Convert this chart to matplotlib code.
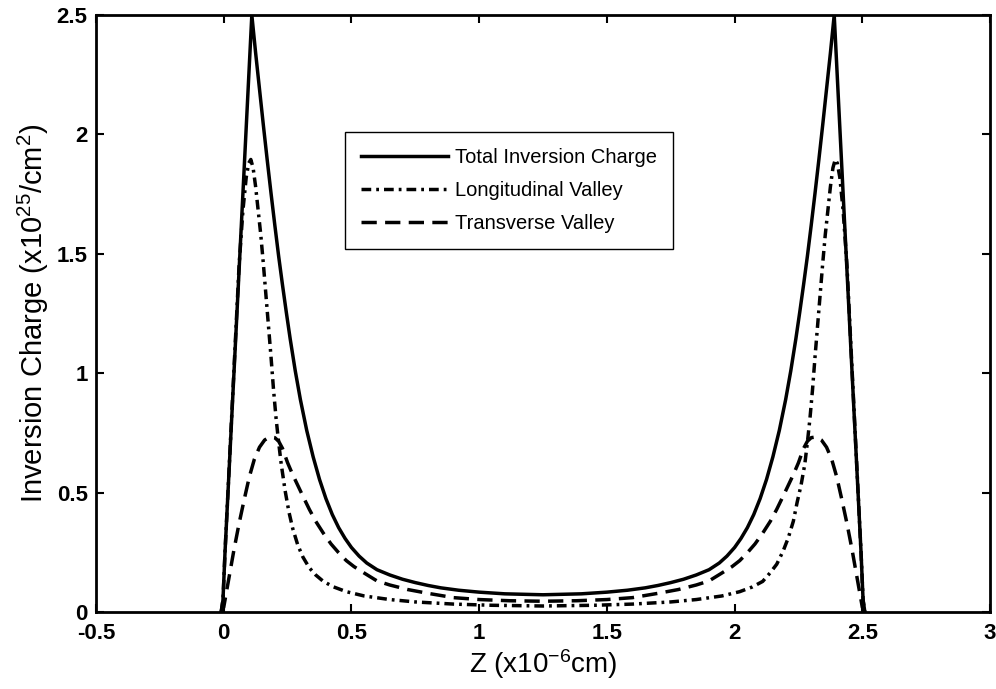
import numpy as np
import matplotlib
matplotlib.use("Agg")
import matplotlib.pyplot as plt

plt.rcParams['font.family'] = ['Liberation Sans', 'DejaVu Sans']
plt.rcParams['mathtext.fontset'] = 'custom'
plt.rcParams['mathtext.rm'] = 'Liberation Sans'
plt.rcParams['mathtext.it'] = 'Liberation Sans:italic'
plt.rcParams['mathtext.bf'] = 'Liberation Sans:bold'
plt.rcParams['lines.scale_dashes'] = False

# Total inversion charge
z_total = [-0.01, -0.003, 0.005, 0.11, 0.125, 0.14, 0.155, 0.17, 0.185, 0.20, 0.215, 0.23,
           0.245, 0.26, 0.28, 0.30, 0.325, 0.35, 0.375, 0.40, 0.425, 0.45, 0.475, 0.50,
           0.53, 0.56, 0.60, 0.65, 0.70, 0.75, 0.80, 0.85, 0.92, 1.0, 1.1, 1.25,
           1.40, 1.50, 1.58, 1.65, 1.70, 1.75, 1.80, 1.85, 1.90, 1.94, 1.97, 2.00,
           2.025, 2.05, 2.075, 2.10, 2.125, 2.15, 2.175, 2.20, 2.22, 2.24, 2.255, 2.27,
           2.285, 2.30, 2.315, 2.33, 2.345, 2.36, 2.375, 2.39, 2.495, 2.503, 2.51]
q_total = [0.0, 0.05, 0.25, 2.5, 2.34, 2.19, 2.04, 1.895, 1.755, 1.62, 1.49, 1.37,
           1.255, 1.145, 1.01, 0.89, 0.76, 0.65, 0.555, 0.475, 0.408, 0.353, 0.308, 0.27,
           0.234, 0.205, 0.177, 0.155, 0.137, 0.123, 0.111, 0.101, 0.091, 0.083, 0.076, 0.072,
           0.076, 0.083, 0.091, 0.101, 0.111, 0.123, 0.137, 0.155, 0.177, 0.205, 0.234, 0.27,
           0.308, 0.353, 0.408, 0.475, 0.555, 0.65, 0.76, 0.89, 1.01, 1.145, 1.255, 1.37,
           1.49, 1.62, 1.755, 1.895, 2.04, 2.19, 2.34, 2.5, 0.25, 0.05, 0.0]

# Longitudinal valley
z_long = [-0.01, -0.003, 0.005, 0.06, 0.075, 0.088, 0.098, 0.106, 0.115, 0.125, 0.135,
          0.145, 0.155, 0.165, 0.175, 0.185, 0.195, 0.205, 0.215, 0.225, 0.24, 0.255,
          0.27, 0.29, 0.31, 0.335, 0.36, 0.39, 0.43, 0.48, 0.55, 0.65, 0.75, 0.90, 1.05, 1.25,
          1.45, 1.60, 1.75, 1.85, 1.95, 2.02, 2.07, 2.11, 2.14, 2.165, 2.19, 2.21, 2.23,
          2.245, 2.26, 2.275, 2.285, 2.295, 2.305, 2.315, 2.325, 2.335, 2.345, 2.355,
          2.365, 2.375, 2.385, 2.394, 2.402, 2.412, 2.425, 2.44, 2.495, 2.503, 2.51]
q_long = [0.0, 0.05, 0.25, 1.45, 1.68, 1.82, 1.88, 1.895, 1.86, 1.78, 1.68,
          1.58, 1.46, 1.33, 1.2, 1.07, 0.93, 0.81, 0.71, 0.62, 0.51, 0.42,
          0.35, 0.28, 0.23, 0.185, 0.155, 0.128, 0.105, 0.085, 0.067, 0.052, 0.042, 0.033, 0.028, 0.025,
          0.028, 0.033, 0.042, 0.052, 0.067, 0.085, 0.105, 0.128, 0.165, 0.20, 0.255, 0.31, 0.38,
          0.46, 0.53, 0.62, 0.71, 0.81, 0.93, 1.07, 1.2, 1.33, 1.46, 1.58,
          1.68, 1.78, 1.86, 1.895, 1.88, 1.82, 1.68, 1.45, 0.25, 0.05, 0.0]

# Transverse valley
z_trans = [-0.01, 0.0, 0.02, 0.04, 0.06, 0.08, 0.10, 0.12, 0.14, 0.16, 0.18, 0.20, 0.215,
           0.23, 0.25, 0.27, 0.29, 0.31, 0.335, 0.36, 0.39, 0.42, 0.45, 0.48, 0.51, 0.55,
           0.60, 0.65, 0.72, 0.80, 0.90, 1.0, 1.12, 1.25,
           1.38, 1.50, 1.60, 1.70, 1.78, 1.85, 1.90, 1.95, 1.99, 2.02, 2.05, 2.08, 2.11,
           2.14, 2.165, 2.19, 2.21, 2.23, 2.25, 2.27, 2.285, 2.30, 2.32, 2.34, 2.36, 2.38,
           2.40, 2.42, 2.44, 2.46, 2.48, 2.50, 2.51]
q_trans = [0.0, 0.02, 0.14, 0.26, 0.37, 0.47, 0.565, 0.64, 0.69, 0.72, 0.733, 0.73, 0.715,
           0.685, 0.625, 0.575, 0.53, 0.485, 0.43, 0.38, 0.33, 0.285, 0.248, 0.215, 0.19, 0.163,
           0.13, 0.113, 0.094, 0.078, 0.060, 0.052, 0.047, 0.045,
           0.047, 0.052, 0.060, 0.078, 0.094, 0.113, 0.13, 0.163, 0.19, 0.215, 0.248, 0.285, 0.33,
           0.38, 0.43, 0.485, 0.53, 0.575, 0.625, 0.685, 0.715, 0.73, 0.733, 0.72, 0.69, 0.64,
           0.565, 0.47, 0.37, 0.26, 0.14, 0.02, 0.0]

fig = plt.figure(figsize=(9.96, 6.89), dpi=100)
ax = fig.add_axes([0.0964, 0.1118, 0.8976, 0.8664])

ax.plot(z_total, q_total, color="black", linewidth=2.5, label="Total Inversion Charge")
ax.plot(z_long, q_long, color="black", linewidth=2.5, dashes=(7, 3.6, 2, 3.6),
        label="Longitudinal Valley")
ax.plot(z_trans, q_trans, color="black", linewidth=2.5, dashes=(11, 6),
        label="Transverse Valley")

ax.set_xlim(-0.5, 3)
ax.set_ylim(0, 2.5)
ax.set_xticks(np.arange(-0.5, 3.01, 0.5))
ax.set_xticklabels(["-0.5", "0", "0.5", "1", "1.5", "2", "2.5", "3"])
ax.set_yticks(np.arange(0, 2.51, 0.5))
ax.set_yticklabels(["0", "0.5", "1", "1.5", "2", "2.5"])
ax.tick_params(direction="in", top=True, right=True, length=6, width=1.5,
               labelsize=16)
ax.tick_params(axis="x", pad=8)
ax.tick_params(axis="y", pad=6)
for lab in ax.get_xticklabels() + ax.get_yticklabels():
    lab.set_fontweight("bold")
for sp in ax.spines.values():
    sp.set_linewidth(2)

ax.set_xlabel(r"Z (x10$^{-6}$cm)", fontsize=20, labelpad=2)
ax.set_ylabel(r"Inversion Charge (x10$^{25}$/cm$^{2}$)", fontsize=21, labelpad=4)

leg = ax.legend(loc="upper left", bbox_to_anchor=(0.2785, 0.804), borderaxespad=0,
                fontsize=14.5, handlelength=4.3, handletextpad=0.35, labelspacing=0.7,
                fancybox=False, edgecolor="black", framealpha=1, borderpad=0.8)
leg.get_frame().set_linewidth(1)

plt.savefig("out.png", dpi=100)
